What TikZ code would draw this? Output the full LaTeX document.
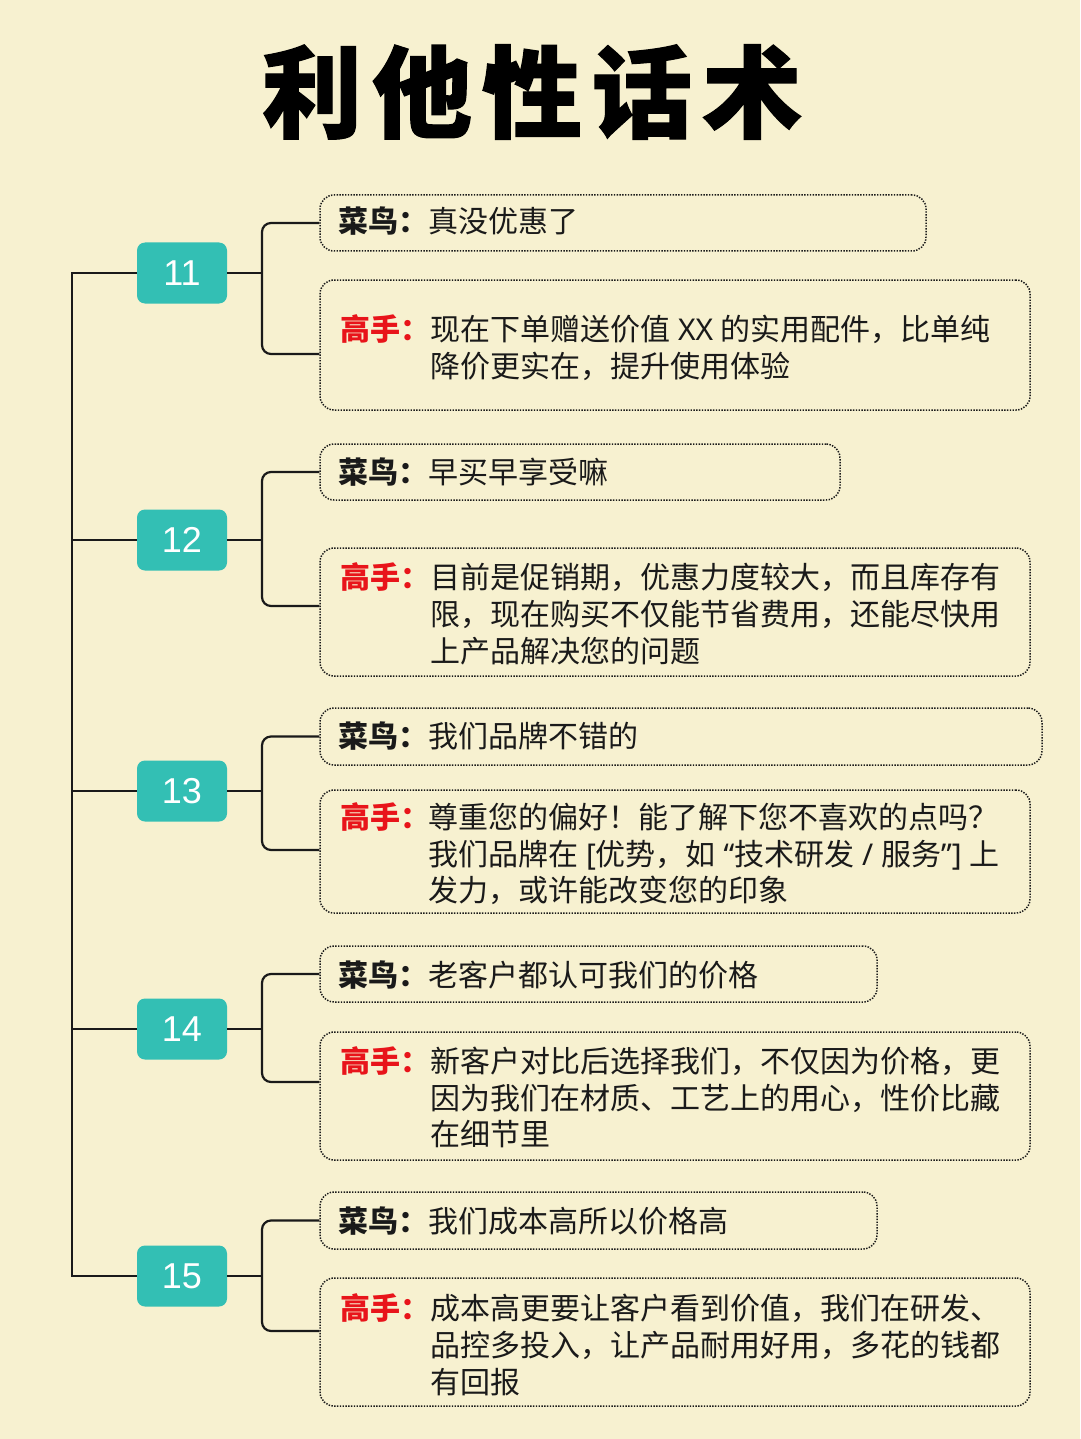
\documentclass[tikz,border=0pt]{standalone}
\usepackage{fontspec}
\setmainfont{Noto Sans CJK SC}
\newfontfamily\titlefont[BoldFeatures={FakeBold=1.2}]{Noto Sans CJK SC}
\newfontfamily\numfont{Liberation Sans}
\newfontfamily\latin{Noto Sans}
\definecolor{paper}{HTML}{F7F1D0}
\definecolor{teal}{HTML}{33BFB4}
\definecolor{ink}{HTML}{1A1A1A}
\definecolor{pro}{HTML}{E8141A}
\begin{document}
\begin{tikzpicture}[x=1pt,y=-1pt,
  numbox/.style={fill=teal, rounded corners=8pt, minimum width=90pt, minimum height=61pt,
    inner sep=0, text=white, font=\numfont\fontsize{36}{36}\selectfont},
  bubble/.style={draw=ink, line width=1.5pt, dash pattern=on 1.4pt off 1.4pt,
    rounded corners=14pt, inner sep=0},
  ln/.style={anchor=base west, inner sep=0, text=ink, font=\fontsize{30}{30}\selectfont},
  rookie/.style={ln, font=\bfseries\fontsize{30}{30}\selectfont},
  master/.style={ln, text=pro, font=\bfseries\fontsize{30}{30}\selectfont},
  wire/.style={line width=2.2pt, draw=ink},
  fork/.style={wire, rounded corners=9pt}]
\useasboundingbox (0,0) rectangle (1080,1439);
\fill[paper] (0,0) rectangle (1080,1439);

% title
\node[inner sep=0, text=black] (title) at (532,92)
  {\titlefont\bfseries\fontsize{100}{100}\selectfont 利\hspace{10pt}他\hspace{10pt}性\hspace{10pt}话\hspace{10pt}术};

% numbered hubs
\node[numbox] (n11) at (182,273) {11};
\node[numbox] (n12) at (182,540) {12};
\node[numbox] (n13) at (182,791) {13};
\node[numbox] (n14) at (182,1029) {14};
\node[numbox] (n15) at (182,1276) {15};

% dialogue bubbles
\node[bubble, minimum width=606pt, minimum height=56pt] (a11) at (623,223) {};
\node[bubble, minimum width=710pt, minimum height=130pt] (c11) at (675,345) {};
\node[bubble, minimum width=520pt, minimum height=56pt] (a12) at (580,472) {};
\node[bubble, minimum width=710pt, minimum height=128pt] (c12) at (675,612) {};
\node[bubble, minimum width=722pt, minimum height=57pt] (a13) at (681,736.5) {};
\node[bubble, minimum width=710pt, minimum height=123pt] (c13) at (675,851.5) {};
\node[bubble, minimum width=557pt, minimum height=56pt] (a14) at (598.5,974) {};
\node[bubble, minimum width=710pt, minimum height=128pt] (c14) at (675,1096) {};
\node[bubble, minimum width=557pt, minimum height=57pt] (a15) at (598.5,1220.5) {};
\node[bubble, minimum width=710pt, minimum height=128pt] (c15) at (675,1342) {};

% texts: 11
\node[rookie] (r11) at (338,233) {菜鸟：};
\node[ln] (r11t) at (428,233) {真没优惠了};
\node[master] (m11) at (340,340) {高手：};
\node[ln] (m11a) at (430,340) {现在下单赠送价值{\latin\ XX\ }的实用配件，比单纯};
\node[ln] (m11b) at (430,377) {降价更实在，提升使用体验};
% 12
\node[rookie] (r12) at (338,483) {菜鸟：};
\node[ln] (r12t) at (428,483) {早买早享受嘛};
\node[master] (m12) at (340,588) {高手：};
\node[ln] (m12a) at (430,588) {目前是促销期，优惠力度较大，而且库存有};
\node[ln] (m12b) at (430,625) {限，现在购买不仅能节省费用，还能尽快用};
\node[ln] (m12c) at (430,662) {上产品解决您的问题};
% 13
\node[rookie] (r13) at (338,747) {菜鸟：};
\node[ln] (r13t) at (428,747) {我们品牌不错的};
\node[master] (m13) at (340,828) {高手：};
\node[ln] (m13a) at (428,828) {尊重您的偏好！能了解下您不喜欢的点吗？};
\node[ln] (m13b) at (428,865) {我们品牌在{\latin\ [}优势，如{\latin\ “}技术研发{\latin\ /\ }服务{\latin ”]\ }上};
\node[ln] (m13c) at (428,901) {发力，或许能改变您的印象};
% 14
\node[rookie] (r14) at (338,986) {菜鸟：};
\node[ln] (r14t) at (428,986) {老客户都认可我们的价格};
\node[master] (m14) at (340,1072) {高手：};
\node[ln] (m14a) at (430,1072) {新客户对比后选择我们，不仅因为价格，更};
\node[ln] (m14b) at (430,1109) {因为我们在材质、工艺上的用心，性价比藏};
\node[ln] (m14c) at (430,1145) {在细节里};
% 15
\node[rookie] (r15) at (338,1232) {菜鸟：};
\node[ln] (r15t) at (428,1232) {我们成本高所以价格高};
\node[master] (m15) at (340,1319) {高手：};
\node[ln] (m15a) at (430,1319) {成本高更要让客户看到价值，我们在研发、};
\node[ln] (m15b) at (430,1356) {品控多投入，让产品耐用好用，多花的钱都};
\node[ln] (m15c) at (430,1393) {有回报};

% trunk
\coordinate (t11) at (72,273);
\coordinate (t12) at (72,540);
\coordinate (t13) at (72,791);
\coordinate (t14) at (72,1029);
\coordinate (t15) at (72,1276);
\draw[wire] (n11.west) -- (t11) -- (t15) -- (n15.west);
\draw[wire] (t12) -- (n12.west);
\draw[wire] (t13) -- (n13.west);
\draw[wire] (t14) -- (n14.west);

% forks from each hub to its two bubbles
\coordinate (k11) at (262,273);
\coordinate (k12) at (262,540);
\coordinate (k13) at (262,791);
\coordinate (k14) at (262,1029);
\coordinate (k15) at (262,1276);
\draw[wire] (n11.east) -- (k11);
\draw[wire] (n12.east) -- (k12);
\draw[wire] (n13.east) -- (k13);
\draw[wire] (n14.east) -- (k14);
\draw[wire] (n15.east) -- (k15);
\draw[fork] (a11.west) -| (k11) |- (c11.west |- 0,354);
\draw[fork] (a12.west) -| (k12) |- (c12.west |- 0,606);
\draw[fork] (a13.west) -| (k13) |- (c13.west |- 0,850);
\draw[fork] (a14.west) -| (k14) |- (c14.west |- 0,1082);
\draw[fork] (a15.west) -| (k15) |- (c15.west |- 0,1331);
\end{tikzpicture}
\end{document}
